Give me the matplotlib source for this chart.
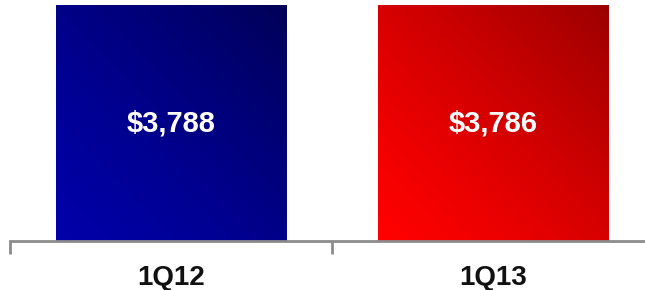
import numpy as np
import matplotlib.pyplot as plt
from matplotlib.colors import LinearSegmentedColormap

categories = ['1Q12', '1Q13']
values = [3788, 3786]
value_labels = ['$3,788', '$3,786']

plt.rcParams['font.family'] = ['Liberation Sans', 'DejaVu Sans']

fig = plt.figure(figsize=(6.45, 2.9), dpi=100)
ax = fig.add_axes([10 / 645, 1 - 240.5 / 290, 634 / 645, 240.5 / 290])

x = np.arange(len(categories))
width = 0.715
bars = ax.bar(x, values, width=width, color='none', edgecolor='none')

# gradients run from bottom-left (bright) to top-right (dark)
grads = [('#0000a8', '#000058'), ('#ff0000', '#9c0000')]
yy, xx = np.mgrid[0:1:100j, 0:1:100j]
t = ((xx + yy) / 2) ** 1.3
for bar, (c0, c1) in zip(bars, grads):
    cmap = LinearSegmentedColormap.from_list('g', [c0, c1])
    x0, w = bar.get_x(), bar.get_width()
    im = ax.imshow(t, cmap=cmap, origin='lower', aspect='auto',
                   extent=[x0, x0 + w, 0, bar.get_height()], zorder=2)
    im.set_clip_path(bar)

for xi, v, lab in zip(x, values, value_labels):
    ax.text(xi, v * 0.495, lab, ha='center', va='center', color='white',
            fontsize=21, fontweight='bold', zorder=3)

ax.set_xlim(-0.5, 1.47)
ax.set_ylim(0, 3788 * 240 / 235)

for s in ['top', 'right', 'left']:
    ax.spines[s].set_visible(False)
ax.spines['bottom'].set_color('#8c8c8c')
ax.spines['bottom'].set_linewidth(2)
ax.set_yticks([])
ax.set_xticks([-0.5, 0.5], minor=False)
ax.set_xticklabels(['', ''])
ax.tick_params(axis='x', length=9, width=2, color='#8c8c8c')
for xi, c in zip(x, categories):
    ax.text(xi, -0.155, c, transform=ax.get_xaxis_transform(), ha='center',
            va='center', fontsize=20, fontweight='bold', color='#111111')

fig.savefig('out.png', dpi=100)
